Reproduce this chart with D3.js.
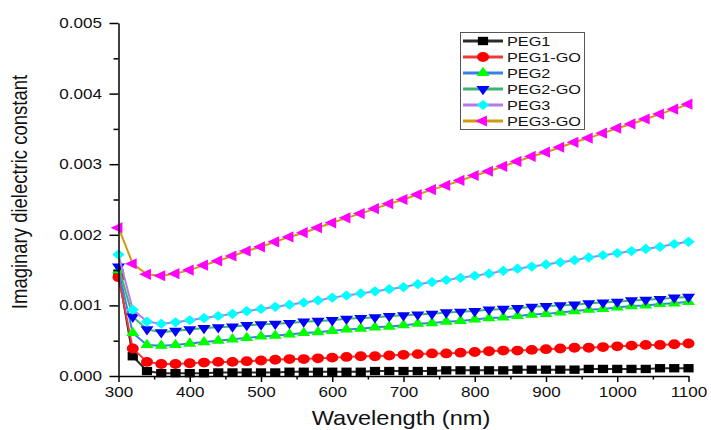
<!DOCTYPE html>
<html>
<head>
<meta charset="utf-8">
<script src="https://cdn.jsdelivr.net/npm/d3@7"></script>
<style>
  body { margin: 0; background: #fff; }
  svg { display: block; font-family: "Liberation Sans", Arial, sans-serif; }
</style>
</head>
<body>
<div id="chart"></div>
<script>
// values, one point every 20 nm
const wavelength = [300, 320, 340, 360, 380, 400, 420, 440, 460, 480, 500, 520, 540, 560, 580, 600, 620, 640, 660, 680,
  700, 720, 740, 760, 780, 800, 820, 840, 860, 880, 900, 920, 940, 960, 980, 1000, 1020, 1040, 1060, 1080, 1100]

const peg1 = [.00145, .00028, .00007, .00004, .00004, .00004, .00004, .00005, .00005, .00005, .00005, .00005, .00006, .00006,
  .00006, .00006, .00006, .00006, .00007, .00007, .00007, .00007, .00007, .00008, .00008, .00008, .00008, .00008, .00009,
  .00009, .00009, .00009, .00009, .00010, .00010, .00010, .00010, .00010, .00011, .00011, .00011]

const peg1go = [.00140, .00039, .00020, .00017, .00017, .00018, .00019, .00020, .00020, .00021, .00022, .00023, .00024, .00024,
  .00025, .00026, .00027, .00028, .00028, .00029, .00030, .00031, .00032, .00032, .00033, .00034, .00035, .00036, .00036,
  .00037, .00038, .00039, .00040, .00040, .00041, .00042, .00043, .00044, .00044, .00045, .00046]

const peg2 = [.00150, .00061, .00044, .00043, .00044, .00046, .00048, .00050, .00052, .00054, .00056, .00057, .00059, .00061,
  .00062, .00064, .00066, .00067, .00069, .00070, .00072, .00074, .00075, .00077, .00078, .00080, .00082, .00083, .00085,
  .00087, .00088, .00090, .00092, .00094, .00095, .00097, .00099, .00100, .00102, .00103, .00105]

const peg2go = [.00155, .00084, .00066, .00062, .00064, .00066, .00068, .00069, .00070, .00072, .00073, .00074, .00075, .00077,
  .00078, .00079, .00081, .00082, .00083, .00085, .00086, .00087, .00088, .00090, .00091, .00092, .00094, .00095, .00096,
  .00098, .00099, .00100, .00101, .00103, .00104, .00105, .00107, .00108, .00109, .00111, .00112]

const peg3 = [.00172, .00094, .00077, .00074, .00076, .00079, .00082, .00085, .00088, .00092, .00095, .00098, .00101, .00104,
  .00107, .00111, .00114, .00117, .00120, .00123, .00126, .00130, .00133, .00136, .00139, .00142, .00145, .00149, .00152,
  .00155, .00158, .00161, .00164, .00168, .00171, .00174, .00177, .00180, .00183, .00187, .00190]

const peg3go = [.00210, .00159, .00144, .00142, .00145, .00150, .00157, .00163, .00170, .00177, .00183, .00190, .00197, .00203,
  .00210, .00217, .00224, .00230, .00237, .00244, .00250, .00257, .00264, .00270, .00277, .00284, .00290, .00297, .00304,
  .00311, .00317, .00324, .00331, .00337, .00344, .00351, .00357, .00364, .00371, .00378, .00385]

const seriesNames = ["PEG1", "PEG1-GO", "PEG2", "PEG2-GO", "PEG3", "PEG3-GO"]
const seriesValues = [peg1, peg1go, peg2, peg2go, peg3, peg3go]
const lineColors = ["#2b2b2b", "#f03a3a", "#3a7fe6", "#3cb371", "#b47be6", "#d09a10"]
const markerColors = ["#000000", "#ff0000", "#00ff00", "#0000ff", "#00ffff", "#ff00ff"]

const xTicks = [300, 400, 500, 600, 700, 800, 900, 1000, 1100]
const xMinor = [350, 450, 550, 650, 750, 850, 950, 1050]
const yTicks = [0, .001, .002, .003, .004, .005]
const yMinor = [.0005, .0015, .0025, .0035, .0045]

const width = 711
const height = 430
const stretch = 1.22 // the reference is squashed wide, so text and marks are too

const svg = d3.select("#chart").append("svg")
  .attr("width", width)
  .attr("height", height)

const x = d3.scaleLinear().domain([300, 1100]).range([118.5, 688.5])
const y = d3.scaleLinear().domain([0, 0.005]).range([376, 23])

// marker shapes for each series
const markers = [
  { type: d3.symbolSquare, size: 70, rot: 0 },
  { type: d3.symbolCircle, size: 76, rot: 0 },
  { type: d3.symbolTriangle, size: 50, rot: 0 },
  { type: d3.symbolTriangle, size: 50, rot: 180 },
  { type: d3.symbolSquare, size: 52, rot: 45 },
  { type: d3.symbolTriangle, size: 54, rot: -90 }
]

const line = d3.line()
  .x((d, i) => x(wavelength[i]))
  .y(d => y(d))

seriesValues.forEach((vals, k) => {
  const g = svg.append("g")
  g.append("path")
    .datum(vals)
    .attr("fill", "none")
    .attr("stroke", lineColors[k])
    .attr("stroke-width", 2)
    .attr("d", line)
  g.selectAll("path.m")
    .data(vals)
    .join("path")
    .attr("class", "m")
    .attr("d", d3.symbol(markers[k].type, markers[k].size))
    .attr("fill", markerColors[k])
    .attr("transform", (d, i) => `translate(${x(wavelength[i])},${y(d)}) scale(${stretch},1) rotate(${markers[k].rot})`)
})

// axes
const xAxis = svg.append("g")
  .attr("transform", `translate(0,${y(0)})`)
  .call(d3.axisBottom(x).tickValues(xTicks).tickFormat(d3.format("d")).tickSize(6).tickPadding(5.5).tickSizeOuter(0))
svg.append("g")
  .attr("transform", `translate(0,${y(0)})`)
  .call(d3.axisBottom(x).tickValues(xMinor).tickSize(3.5).tickFormat("").tickSizeOuter(0))
  .select(".domain").remove()

const yAxis = svg.append("g")
  .attr("transform", `translate(${x(300)},0)`)
  .call(d3.axisLeft(y).tickValues(yTicks).tickFormat(d3.format(".3f")).tickSize(9).tickSizeOuter(0))
svg.append("g")
  .attr("transform", `translate(${x(300)},0)`)
  .call(d3.axisLeft(y).tickValues(yMinor).tickSize(5).tickFormat("").tickSizeOuter(0))
  .select(".domain").remove()

svg.selectAll(".domain, .tick line")
  .attr("stroke", "#000")
  .attr("stroke-width", 1.5)

xAxis.selectAll("text")
  .attr("font-size", 14)
  .attr("font-family", "Liberation Sans, Arial, sans-serif")
  .attr("fill", "#111")
  .attr("transform", `scale(${stretch},1)`)

yAxis.selectAll("text")
  .attr("x", -13.5)
  .attr("font-size", 14)
  .attr("font-family", "Liberation Sans, Arial, sans-serif")
  .attr("fill", "#111")
  .attr("transform", `scale(${stretch},1)`)

// axis titles
svg.append("text")
  .attr("transform", `translate(401,425) scale(${stretch - 0.04},1)`)
  .attr("text-anchor", "middle")
  .attr("font-size", 20)
  .attr("fill", "#111")
  .text("Wavelength (nm)")

svg.append("text")
  .attr("transform", `translate(27,192) scale(${stretch},1) rotate(-90)`)
  .attr("text-anchor", "middle")
  .attr("font-size", 18.5)
  .attr("fill", "#111")
  .text("Imaginary dielectric constant")

// legend
const legend = svg.append("g")
legend.append("rect")
  .attr("x", 460.5)
  .attr("y", 32.5)
  .attr("width", 124)
  .attr("height", 97)
  .attr("fill", "#fff")
  .attr("stroke", "#555")
  .attr("stroke-width", 1)

const rows = legend.selectAll("g.row")
  .data(seriesNames)
  .join("g")
  .attr("class", "row")
  .attr("transform", (d, i) => `translate(0,${41 + i * 16})`)

rows.append("line")
  .attr("x1", 463)
  .attr("x2", 503)
  .attr("stroke", (d, i) => lineColors[i])
  .attr("stroke-width", 3)

rows.append("path")
  .attr("d", (d, i) => d3.symbol(markers[i].type, markers[i].size)())
  .attr("fill", (d, i) => markerColors[i])
  .attr("transform", (d, i) => `translate(483,0) scale(${stretch},1) rotate(${markers[i].rot})`)

rows.append("text")
  .attr("transform", `translate(507,4.7) scale(1.25,1)`)
  .attr("font-size", 13)
  .attr("fill", "#111")
  .text(d => d)
</script>
</body>
</html>
